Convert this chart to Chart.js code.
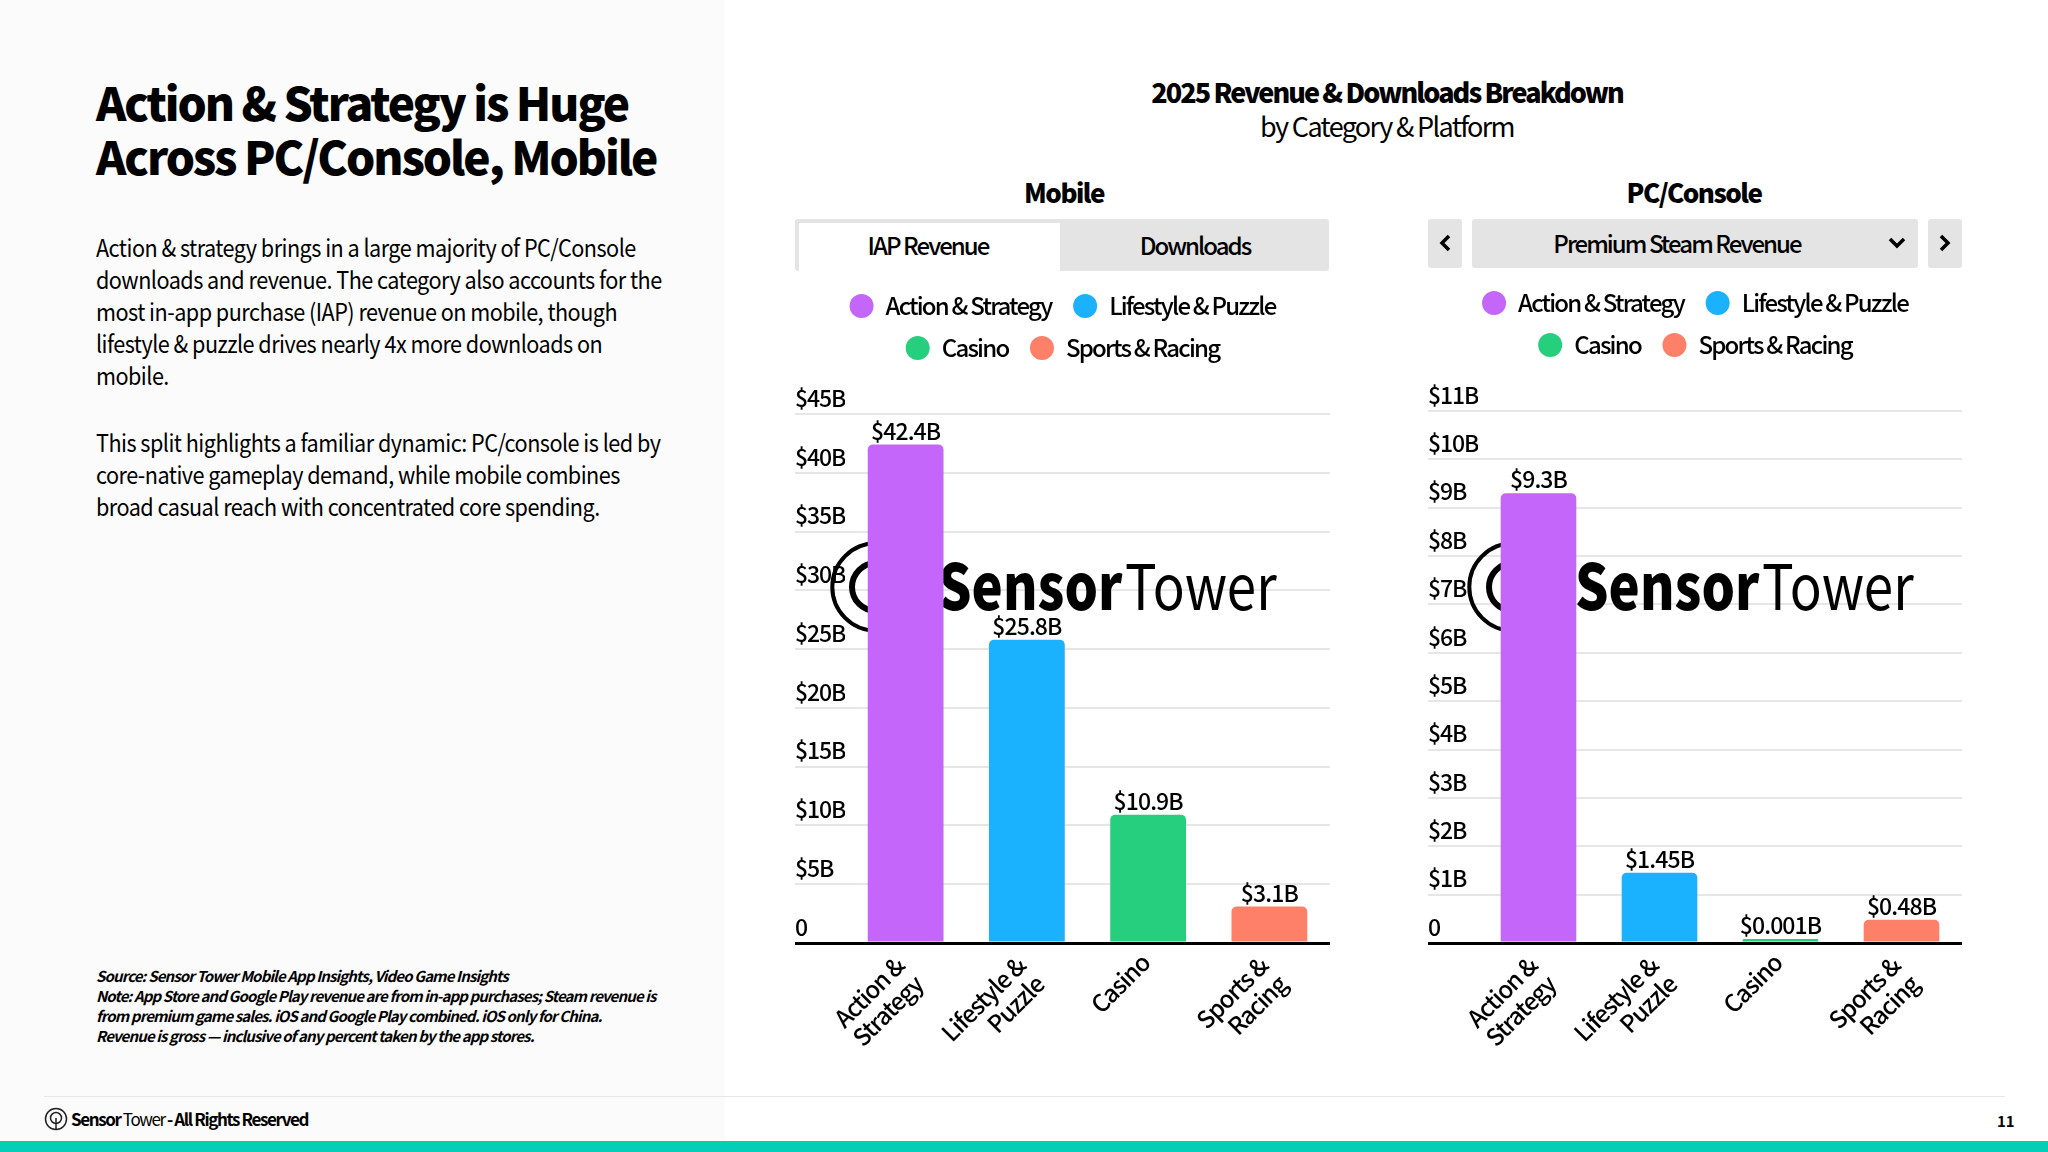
<!DOCTYPE html>
<html>
<head>
<meta charset="utf-8">
<script src="https://cdn.jsdelivr.net/npm/chart.js@4"></script>
<style>
html, body { margin: 0; padding: 0; background: #fff; }
body { width: 2048px; height: 1152px; position: relative; overflow: hidden; font-family: "Noto Sans CJK JP", "Noto Sans", sans-serif; color: #000; }
.abs { position: absolute; white-space: nowrap; }
.ctr { transform: translateX(-50%); }
.panel { position: absolute; left: 0; top: 0; width: 725px; height: 1141px; background: #fbfbfb; }
.h1 { font-size: 46px; font-weight: 900; line-height: 55px; left: 96px; letter-spacing: -2.05px; }
.body { font-size: 24px; line-height: 32px; left: 96px; letter-spacing: -0.58px; transform: scaleX(0.9); transform-origin: left top; }
.note { font-size: 15px; line-height: 20px; font-style: italic; left: 96px; font-weight: 700; letter-spacing: -0.87px; }
.tt { font-size: 27px; letter-spacing: -1.65px; }
.sub { font-size: 26px; font-weight: 900; letter-spacing: -1.5px; }
.btn { position: absolute; background: #e4e4e4; border-radius: 3px; }
.tabtxt { font-size: 24px; font-weight: 500; letter-spacing: -1.95px; }
canvas { position: absolute; }
</style>
</head>
<body>
<div class="panel"></div>

<div class="abs h1" style="top:74px">Action &amp; Strategy is Huge</div>
<div class="abs h1" style="top:128px">Across PC/Console, Mobile</div>

<div class="abs body" style="top:231px">Action &amp; strategy brings in a large majority of PC/Console</div>
<div class="abs body" style="top:263px">downloads and revenue. The category also accounts for the</div>
<div class="abs body" style="top:295px">most in-app purchase (IAP) revenue on mobile, though</div>
<div class="abs body" style="top:327px">lifestyle &amp; puzzle drives nearly 4x more downloads on</div>
<div class="abs body" style="top:359px">mobile.</div>
<div class="abs body" style="top:426px">This split highlights a familiar dynamic: PC/console is led by</div>
<div class="abs body" style="top:458px">core-native gameplay demand, while mobile combines</div>
<div class="abs body" style="top:490px">broad casual reach with concentrated core spending.</div>

<div class="abs note" style="top:966px">Source: Sensor Tower Mobile App Insights, Video Game Insights</div>
<div class="abs note" style="top:986px">Note: App Store and Google Play revenue are from in-app purchases; Steam revenue is</div>
<div class="abs note" style="top:1006px">from premium game sales. iOS and Google Play combined. iOS only for China.</div>
<div class="abs note" style="top:1026px">Revenue is gross — inclusive of any percent taken by the app stores.</div>

<div class="abs ctr tt" style="left:1387px;top:72px;font-weight:900;letter-spacing:-1.95px">2025 Revenue &amp; Downloads Breakdown</div>
<div class="abs ctr tt" style="left:1387px;top:106px">by Category &amp; Platform</div>

<div class="abs ctr sub" style="left:1064px;top:173px">Mobile</div>
<div class="abs ctr sub" style="left:1694px;top:173px">PC/Console</div>

<!-- tabs -->
<div class="btn" style="left:795px;top:219px;width:534px;height:52px"></div>
<div style="position:absolute;left:799px;top:223px;width:261px;height:48px;background:#fff"></div>
<div class="abs ctr tabtxt" style="left:928px;top:227px">IAP Revenue</div>
<div class="abs ctr tabtxt" style="left:1195px;top:227px">Downloads</div>

<div class="btn" style="left:1428px;top:219px;width:34px;height:49px"></div>
<div class="btn" style="left:1472px;top:219px;width:446px;height:49px"></div>
<div class="btn" style="left:1928px;top:219px;width:34px;height:49px"></div>
<div class="abs ctr tabtxt" style="left:1677px;top:225px">Premium Steam Revenue</div>
<svg style="position:absolute;left:1438px;top:233px" width="14" height="20"><path d="M11 3 L4 10 L11 17" fill="none" stroke="#000" stroke-width="3.5"/></svg>
<svg style="position:absolute;left:1888px;top:236px" width="18" height="14"><path d="M2 3 L9 10 L16 3" fill="none" stroke="#000" stroke-width="3.5"/></svg>
<svg style="position:absolute;left:1938px;top:233px" width="14" height="20"><path d="M3 3 L10 10 L3 17" fill="none" stroke="#000" stroke-width="3.5"/></svg>

<canvas id="mobileChart" style="left:795px;top:276px;width:535px;height:787px" width="535" height="787"></canvas>
<canvas id="pcChart" style="left:1428px;top:273px;width:534px;height:790px" width="534" height="790"></canvas>

<!-- footer -->
<div style="position:absolute;left:44px;top:1096px;width:1961px;height:1px;background:#e6e6e6"></div>
<svg style="position:absolute;left:44px;top:1107px" width="24" height="24"><circle cx="12" cy="12" r="10.5" fill="none" stroke="#222" stroke-width="1.5"/><circle cx="12" cy="11" r="5.5" fill="none" stroke="#222" stroke-width="1.5"/><path d="M12 11 V22" stroke="#222" stroke-width="1.5"/></svg>
<div class="abs" style="left:71px;top:1106px;font-size:17px;letter-spacing:-1.4px"><b>Sensor</b> Tower <b>- All Rights Reserved</b></div>
<div class="abs" style="left:1997px;top:1110px;font-size:15px;font-weight:700">11</div>
<div style="position:absolute;left:0;top:1141px;width:2048px;height:11px;background:#04cdb8"></div>

<script>
const categories = [["Action &", "Strategy"], ["Lifestyle &", "Puzzle"], "Casino", ["Sports &", "Racing"]];
const legendNames = ["Action & Strategy", "Lifestyle & Puzzle", "Casino", "Sports & Racing"];
const barColors = ["#c466fa", "#1ab1ff", "#26cf7e", "#ff8069"];

const mobileValues = [42.4, 25.8, 10.9, 3.1];
const mobileLabels = ["$42.4B", "$25.8B", "$10.9B", "$3.1B"];
const mobileTicks = [0, 5, 10, 15, 20, 25, 30, 35, 40, 45];

const pcValues = [9.3, 1.45, 0.001, 0.48];
const pcLabels = ["$9.3B", "$1.45B", "$0.001B", "$0.48B"];
const pcTicks = [0, 1, 2, 3, 4, 5, 6, 7, 8, 9, 10, 11];

const FONT = '"Noto Sans CJK JP", "Noto Sans", sans-serif';

// extra room under the legend, tighter text like the slide font
const fitPlugin = {
    id: "fitTweaks",
    beforeInit(chart, args, opts) {
        const legend = chart.legend;
        const fit = legend.fit;
        const draw = legend.draw;
        legend.fit = function () {
            chart.ctx.letterSpacing = "-1.8px";
            fit.call(legend);
            chart.ctx.letterSpacing = "-1.1px";
            legend.height += opts.legendGap;
        };
        legend.draw = function () {
            chart.ctx.letterSpacing = "-1.8px";
            draw.call(legend);
            chart.ctx.letterSpacing = "-1.1px";
        };
    },
    afterInit(chart) {
        chart.ctx.letterSpacing = "-1.1px";
    }
};

// the big watermark sits over the grid, under the bars
const logoPlugin = {
    id: "logoMark",
    beforeDatasetsDraw(chart, args, opts) {
        const ctx = chart.ctx;
        const dx = opts.x;
        const baseY = opts.y;
        ctx.save();
        ctx.letterSpacing = "0px";
        ctx.strokeStyle = "#000";
        ctx.lineWidth = 4;
        ctx.beginPath();
        ctx.arc(81 + dx, baseY - 22, 43.7, 0, Math.PI * 2);
        ctx.stroke();
        ctx.lineWidth = 6;
        ctx.beginPath();
        ctx.arc(81 + dx, baseY - 22, 24, 0, Math.PI * 2);
        ctx.stroke();
        ctx.fillStyle = "#000";
        ctx.textBaseline = "alphabetic";
        ctx.textAlign = "left";
        ctx.save();
        ctx.translate(143 + dx, baseY + 1);
        ctx.scale(0.835, 1);
        ctx.font = "900 63px " + FONT;
        ctx.fillText("Sensor", 0, 0);
        ctx.restore();
        ctx.translate(330 + dx, baseY + 1);
        ctx.scale(0.84, 1);
        ctx.font = "400 63px " + FONT;
        ctx.fillText("Tower", 0, 0);
        ctx.restore();
    }
};

// value labels above the bars
const barLabelPlugin = {
    id: "barLabels",
    afterDatasetsDraw(chart, args, opts) {
        const ctx = chart.ctx;
        ctx.save();
        ctx.letterSpacing = "-0.9px";
        ctx.fillStyle = "#000";
        ctx.font = "500 23px " + FONT;
        ctx.textAlign = "center";
        ctx.textBaseline = "bottom";
        chart.getDatasetMeta(0).data.forEach((bar, i) => {
            ctx.fillText(opts.labels[i], bar.x, bar.y - 2);
        });
        ctx.restore();
    }
};

function makeChart(id, values, labels, ticks, legendGap, logoX, logoY) {
    return new Chart(document.getElementById(id).getContext("2d"), {
        type: "bar",
        data: {
            labels: categories,
            datasets: [{
                data: values,
                backgroundColor: barColors,
                borderRadius: { topLeft: 5, topRight: 5 },
                borderSkipped: "bottom",
                minBarLength: 4,
                barPercentage: 0.625,
                categoryPercentage: 1
            }]
        },
        plugins: [fitPlugin, logoPlugin, barLabelPlugin],
        options: {
            responsive: false,
            animation: false,
            plugins: {
                tooltip: { enabled: false },
                fitTweaks: { legendGap: legendGap },
                logoMark: { x: logoX, y: logoY },
                barLabels: { labels: labels },
                legend: {
                    position: "top",
                    maxWidth: 470,
                    onClick: null,
                    labels: {
                        usePointStyle: true,
                        pointStyleWidth: 24,
                        boxHeight: 17,
                        padding: 18,
                        color: "#000",
                        font: { family: FONT, size: 24, weight: "500" },
                        // first item of a row gets a wider gap before the next one
                        generateLabels: () => legendNames.map((name, i) => ({
                            text: i % 2 === 0 ? name + "\u00a0" : name,
                            fillStyle: barColors[i],
                            strokeStyle: barColors[i],
                            lineWidth: 0,
                            pointStyle: "circle",
                            hidden: false,
                            index: i
                        }))
                    }
                }
            },
            scales: {
                x: {
                    grid: { display: false },
                    border: { display: true, color: "#000", width: 3, z: 2 },
                    ticks: {
                        color: "#000",
                        font: { family: FONT, size: 24, weight: "500", lineHeight: 1.1 },
                        minRotation: 45,
                        maxRotation: 45,
                        autoSkip: false,
                        padding: -5,
                        // trailing spaces slide the right-aligned text down the slope
                        callback: function (v) {
                            const label = this.getLabelForValue(v);
                            return Array.isArray(label)
                                ? label.map(line => line + "\u00a0\u00a0")
                                : label + "\u00a0";
                        }
                    },
                    afterFit: s => { s.height = 120; }
                },
                y: {
                    min: 0,
                    max: ticks[ticks.length - 1],
                    afterBuildTicks: s => { s.ticks = ticks.map(v => ({ value: v })); },
                    afterFit: s => { s.width = 50; },
                    border: { display: false },
                    grid: {
                        drawTicks: true,
                        tickLength: 50,
                        color: c => c.tick && c.tick.value === 0 ? "#000" : "#e6e6e6",
                        tickColor: c => c.tick && c.tick.value === 0 ? "#000" : "#e6e6e6",
                        lineWidth: c => c.tick && c.tick.value === 0 ? 3 : 2,
                        tickWidth: c => c.tick && c.tick.value === 0 ? 3 : 2
                    },
                    ticks: {
                        color: "#000",
                        font: { family: FONT, size: 23, weight: "500" },
                        crossAlign: "far",
                        labelOffset: -16,
                        padding: 0,
                        autoSkip: false,
                        callback: v => v === 0 ? "0" : "$" + v + "B"
                    }
                }
            }
        }
    });
}

makeChart("mobileChart", mobileValues, mobileLabels, mobileTicks, 44, 0, 333);
makeChart("pcChart", pcValues, pcLabels, pcTicks, 44, 4, 336);
</script>
</body>
</html>
